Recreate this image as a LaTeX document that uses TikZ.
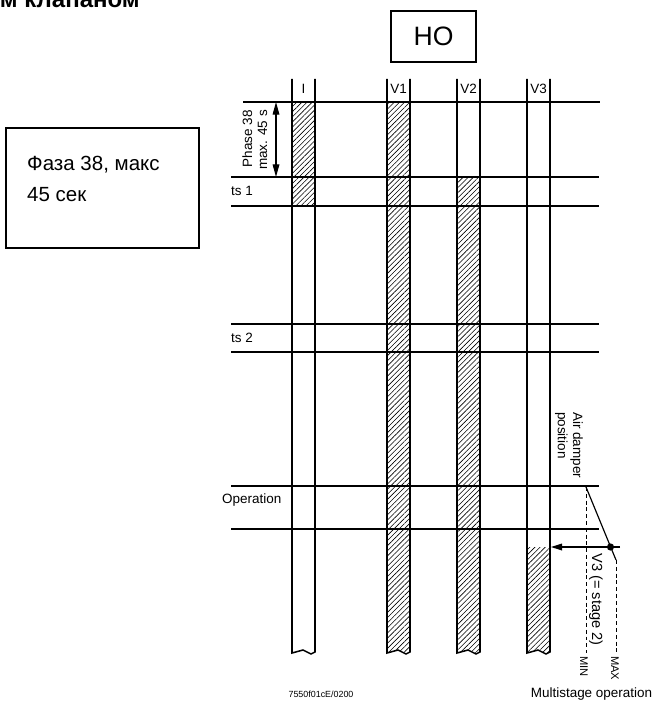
\documentclass[tikz,border=0pt]{standalone}
\usepackage{fontspec}
\setmainfont{Liberation Sans}
\usetikzlibrary{arrows.meta,patterns.meta,positioning}
\tikzset{
    gridline/.style={line width=1.3pt},
    bar/.style={line width=1.3pt, line join=miter},
    hatch/.style={pattern={Lines[angle=45,distance=3.1pt,line width=0.5pt]}},
    lbl/.style={inner sep=0pt, font=\fontsize{11.5}{13}\selectfont},
    boxnode/.style={draw, line width=1pt, inner sep=0pt},
    guide/.style={line width=0.8pt, dash pattern=on 3.4pt off 2.4pt},
    biedge/.style={line width=1pt, {Triangle[length=3.8mm,width=2mm]}-{Triangle[length=3.8mm,width=2mm]}},
    edge/.style={line width=1pt, -{Triangle[length=3.3mm,width=2mm]}}
}

\begin{document}
\begin{tikzpicture}[x=0.03cm, y=-0.03cm]
    \useasboundingbox (0,0) rectangle (653,702);

    % title and notes
    \node[inner sep=0pt, anchor=base east, font=\fontsize{20.5}{24}\selectfont\bfseries] (title) at (140,8) {м клапаном};
    \node[boxnode, minimum width=2.55cm, minimum height=1.53cm, font=\fontsize{22.7}{26}\selectfont] (HO) at (433.5,36.5) {НО};
    \node[boxnode, minimum width=5.79cm, minimum height=3.6cm] (note) at (102.5,188) {};
    \node[inner sep=0pt, anchor=base west, font=\fontsize{17.5}{20}\selectfont] (note1) at (27,170) {Фаза 38, макс};
    \node[inner sep=0pt, anchor=base west, font=\fontsize{17.5}{20}\selectfont] (note2) at (27,201) {45 сек};

    % hatched parts
    \fill[hatch] (292,102) rectangle (315,206);
    \fill[hatch] (387,102) -- (387,653) -- ++(11,-3) -- ++(8,4) -- ++(4,-2) -- (410,102) -- cycle;
    \fill[hatch] (457,177) -- (457,653) -- ++(11,-3) -- ++(8,4) -- ++(4,-2) -- (480,177) -- cycle;
    \fill[hatch] (527,547) -- (527,653) -- ++(11,-3) -- ++(8,4) -- ++(4,-2) -- (550,547) -- cycle;

    % time lines
    \draw[gridline] (243,102) -- (600,102);
    \foreach \y in {177,206,324,352,486,529}
        \draw[gridline] (231,\y) -- (599,\y);

    % columns
    \foreach \x/\n in {292/I,387/V1,457/V2,527/V3} {
        \draw[bar] (\x,79) -- (\x,653) -- ++(11,-3) -- ++(8,4) -- ++(4,-2) -- (\x+23,79);
        \node[lbl] (\n) at (\x+11.5,89) {\n};
    }

    % row labels
    \node[lbl, anchor=west] (ts1) at (231,191) {ts 1};
    \node[lbl, anchor=west] (ts2) at (231,338) {ts 2};
    \node[lbl, anchor=west] (op) at (222,500) {Operation};
    \node[lbl, rotate=90, align=right, anchor=north east] (phase) at (242,110) {Phase 38\\max. 45 s};
    \coordinate (ph1) at (276,102);
    \coordinate (ph2) at (276,177);
    \draw[biedge] (ph1) -- (ph2);

    % air damper
    \node[lbl, rotate=-90, align=left, anchor=north west] (damper) at (583,412) {Air damper\\position};
    \coordinate (dmin) at (586,487);
    \coordinate (dmax) at (616,560);
    \coordinate (dminend) at (586,653);
    \coordinate (dmaxend) at (616,653);
    \coordinate (arrstart) at (620,547);
    \coordinate (arrend) at (551,547);
    \draw[line width=1pt] (dmin) -- (dmax);
    \draw[guide] (dmin) -- (dminend);
    \draw[guide] (dmax) -- (dmaxend);
    \draw[edge] (arrstart) -- (arrend);
    \fill (610.5,547) circle (3.6);
    \node[lbl, rotate=-90, anchor=base west, font=\fontsize{12.5}{14}\selectfont] (stage) at (592,553) {V3 (= stage 2)};
    \node[lbl, rotate=-90, anchor=base west, font=\fontsize{9.5}{11}\selectfont] (min) at (580,656) {MIN};
    \node[lbl, rotate=-90, anchor=base west, font=\fontsize{9.5}{11}\selectfont] (max) at (611,656) {MAX};

    % footer
    \node[inner sep=0pt, font=\fontsize{7.6}{9}\selectfont] (code) at (321,694) {7550f01cE/0200};
    \node[lbl] (multi) at (591.5,694) {Multistage operation};
\end{tikzpicture}
\end{document}
